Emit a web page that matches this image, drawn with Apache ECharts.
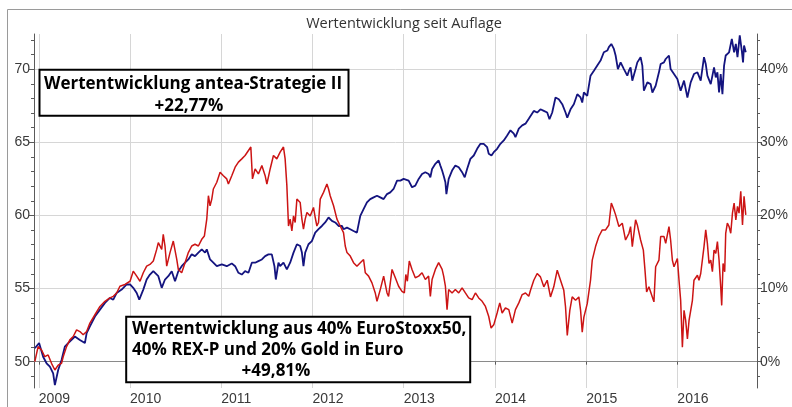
<!DOCTYPE html>
<html><head><meta charset="utf-8">
<script src="https://cdn.jsdelivr.net/npm/echarts@6/dist/echarts.min.js"></script>
<style>html,body{margin:0;padding:0;background:#fff}#c{width:792px;height:407px}</style>
</head><body><div id="c"></div>
<script>
const titleText = 'Wertentwicklung seit Auflage';
const yearTicks = [2009, 2010, 2011, 2012, 2013, 2014, 2015, 2016];
const leftMajor = [50, 55, 60, 65, 70];
const leftMinor = [49, 50, 51, 52, 53, 54, 55, 56, 57, 58, 59, 60, 61, 62, 63, 64, 65, 66, 67, 68, 69, 70, 71, 72];
const rightMajor = [0, 10, 20, 30, 40];
const rightMinor = [-2, 0, 2, 4, 6, 8, 10, 12, 14, 16, 18, 20, 22, 24, 26, 28, 30, 32, 34, 36, 38, 40, 42, 44];
const box1Lines = ['Wertentwicklung antea-Strategie II', '+22,77%'];
const box2Lines = ['Wertentwicklung aus 40% EuroStoxx50,', '40% REX-P und 20% Gold in Euro', '+49,81%'];

// antea-Strategie II (blue), [decimal year, value on left axis]
const anteaStrategie = [[2008.956,50.92],[2009.003,51.27],[2009.047,50.34],[2009.085,49.89],[2009.121,49.66],[2009.157,49.20],[2009.176,48.40],[2009.212,49.43],[2009.249,50.12],[2009.285,51.03],[2009.322,51.27],[2009.359,51.49],[2009.395,51.72],[2009.450,51.49],[2009.505,51.27],[2009.524,51.95],[2009.560,52.41],[2009.615,53.09],[2009.670,53.56],[2009.725,54.02],[2009.779,54.36],[2009.816,54.24],[2009.853,54.70],[2009.908,54.93],[2009.963,55.28],[2010.000,55.28],[2010.035,55.05],[2010.073,54.70],[2010.101,54.24],[2010.145,54.93],[2010.182,55.62],[2010.218,55.96],[2010.255,56.19],[2010.310,55.85],[2010.347,55.05],[2010.383,55.62],[2010.419,55.85],[2010.457,56.19],[2010.493,55.50],[2010.529,56.19],[2010.566,56.53],[2010.603,56.77],[2010.639,56.99],[2010.676,57.34],[2010.712,57.22],[2010.749,57.46],[2010.786,57.68],[2010.822,57.46],[2010.841,57.68],[2010.877,56.99],[2010.913,56.77],[2010.951,56.53],[2011.006,56.65],[2011.060,56.53],[2011.115,56.72],[2011.152,56.53],[2011.188,56.08],[2011.225,55.96],[2011.261,56.19],[2011.298,56.08],[2011.335,56.77],[2011.371,56.77],[2011.407,56.88],[2011.445,56.99],[2011.481,57.22],[2011.517,57.34],[2011.554,57.34],[2011.583,56.53],[2011.598,55.62],[2011.627,56.77],[2011.645,56.53],[2011.682,56.77],[2011.719,56.31],[2011.755,56.77],[2011.792,57.46],[2011.829,58.03],[2011.865,57.91],[2011.884,57.46],[2011.901,56.53],[2011.920,57.46],[2011.956,58.03],[2011.993,58.25],[2012.030,58.83],[2012.066,59.06],[2012.103,59.28],[2012.139,59.52],[2012.176,59.86],[2012.213,59.63],[2012.249,59.52],[2012.286,59.28],[2012.323,59.28],[2012.340,59.06],[2012.378,59.17],[2012.414,59.06],[2012.450,58.94],[2012.487,58.83],[2012.524,59.97],[2012.560,60.43],[2012.597,60.89],[2012.633,61.12],[2012.670,61.24],[2012.707,61.35],[2012.743,61.24],[2012.780,61.12],[2012.817,61.46],[2012.853,61.58],[2012.889,61.81],[2012.927,62.38],[2012.963,62.38],[2012.999,62.50],[2013.054,62.38],[2013.091,61.93],[2013.127,62.04],[2013.164,62.50],[2013.201,62.84],[2013.237,62.96],[2013.273,62.84],[2013.292,62.61],[2013.311,63.18],[2013.347,63.53],[2013.383,63.76],[2013.402,63.41],[2013.421,63.07],[2013.438,62.72],[2013.457,62.27],[2013.468,61.46],[2013.493,62.50],[2013.530,63.07],[2013.566,63.41],[2013.603,63.30],[2013.640,62.96],[2013.669,62.61],[2013.695,63.18],[2013.731,63.87],[2013.768,64.10],[2013.805,64.56],[2013.841,64.90],[2013.877,64.90],[2013.914,64.68],[2013.932,64.22],[2013.962,64.10],[2013.987,64.33],[2014.024,64.56],[2014.060,64.90],[2014.097,65.13],[2014.134,65.47],[2014.170,65.82],[2014.207,65.59],[2014.225,65.36],[2014.262,65.94],[2014.299,66.16],[2014.335,66.28],[2014.371,66.62],[2014.390,66.69],[2014.426,67.15],[2014.463,67.04],[2014.499,67.26],[2014.536,67.15],[2014.573,67.04],[2014.598,66.58],[2014.628,67.04],[2014.664,68.07],[2014.700,67.95],[2014.738,67.61],[2014.774,67.04],[2014.793,66.69],[2014.829,67.26],[2014.865,67.61],[2014.903,68.29],[2014.939,68.07],[2014.957,67.72],[2014.975,68.41],[2015.012,68.18],[2015.048,69.56],[2015.085,69.90],[2015.122,70.25],[2015.158,70.59],[2015.194,71.16],[2015.232,71.28],[2015.249,71.51],[2015.276,71.73],[2015.304,71.39],[2015.323,70.94],[2015.348,70.01],[2015.378,70.47],[2015.396,70.59],[2015.414,70.01],[2015.451,69.56],[2015.469,69.90],[2015.487,70.13],[2015.506,69.22],[2015.542,70.01],[2015.561,70.47],[2015.597,70.82],[2015.616,70.25],[2015.633,68.53],[2015.671,69.10],[2015.707,68.98],[2015.726,68.41],[2015.762,68.87],[2015.798,69.79],[2015.817,70.36],[2015.853,70.47],[2015.872,70.70],[2015.908,70.94],[2015.926,70.01],[2015.963,69.67],[2016.000,69.33],[2016.036,68.53],[2016.073,69.22],[2016.110,68.07],[2016.146,69.10],[2016.182,69.67],[2016.220,69.79],[2016.256,69.22],[2016.292,70.82],[2016.311,70.36],[2016.329,69.56],[2016.366,68.98],[2016.402,70.13],[2016.421,69.44],[2016.439,69.79],[2016.457,68.41],[2016.475,69.67],[2016.494,68.29],[2016.512,70.25],[2016.530,70.94],[2016.567,71.16],[2016.597,72.08],[2016.622,71.16],[2016.641,71.73],[2016.659,70.82],[2016.684,72.31],[2016.706,71.28],[2016.720,70.47],[2016.731,71.62],[2016.750,71.16]];

// 40% EuroStoxx50 / 40% REX-P / 20% Gold (red)
const benchmarkMix = [[2008.956,50.00],[2008.992,51.03],[2009.030,50.80],[2009.066,50.34],[2009.102,50.46],[2009.139,49.89],[2009.176,49.43],[2009.212,49.77],[2009.249,49.89],[2009.267,50.34],[2009.304,51.03],[2009.340,51.49],[2009.377,51.72],[2009.414,52.18],[2009.450,52.06],[2009.486,51.84],[2009.524,52.06],[2009.560,52.64],[2009.615,53.21],[2009.670,53.78],[2009.725,54.13],[2009.779,54.36],[2009.816,54.47],[2009.853,54.70],[2009.889,55.16],[2009.944,55.28],[2010.000,55.50],[2010.035,56.19],[2010.073,55.85],[2010.109,55.50],[2010.145,56.08],[2010.182,56.53],[2010.218,56.65],[2010.255,56.88],[2010.292,57.68],[2010.310,58.14],[2010.347,57.68],[2010.364,58.71],[2010.383,57.91],[2010.402,56.53],[2010.438,57.46],[2010.474,58.25],[2010.512,56.99],[2010.529,56.31],[2010.566,56.08],[2010.603,56.77],[2010.639,57.46],[2010.676,57.91],[2010.712,58.03],[2010.749,57.91],[2010.786,58.37],[2010.815,58.60],[2010.841,59.75],[2010.859,61.35],[2010.877,60.66],[2010.896,61.12],[2010.913,61.81],[2010.951,62.27],[2010.987,62.96],[2011.023,62.72],[2011.060,62.50],[2011.078,62.15],[2011.115,62.72],[2011.152,63.30],[2011.188,63.65],[2011.225,63.87],[2011.261,64.10],[2011.298,64.44],[2011.324,64.68],[2011.342,62.50],[2011.371,63.18],[2011.407,62.84],[2011.445,63.41],[2011.481,62.72],[2011.500,62.15],[2011.536,63.18],[2011.572,64.10],[2011.609,63.87],[2011.645,64.33],[2011.682,64.68],[2011.700,63.87],[2011.719,62.04],[2011.737,59.28],[2011.755,59.75],[2011.774,58.94],[2011.792,59.97],[2011.810,59.52],[2011.829,61.12],[2011.846,61.24],[2011.865,60.89],[2011.884,59.75],[2011.901,59.06],[2011.920,59.75],[2011.939,60.21],[2011.975,59.97],[2012.011,60.55],[2012.030,59.86],[2012.048,59.28],[2012.066,59.52],[2012.085,61.12],[2012.121,61.58],[2012.158,62.15],[2012.176,61.81],[2012.194,61.35],[2012.231,60.66],[2012.268,59.75],[2012.304,59.28],[2012.340,58.83],[2012.359,57.91],[2012.378,57.46],[2012.414,57.22],[2012.450,56.77],[2012.487,56.53],[2012.524,56.77],[2012.560,56.99],[2012.579,56.08],[2012.615,55.85],[2012.652,55.39],[2012.688,54.70],[2012.707,54.13],[2012.743,54.93],[2012.780,55.85],[2012.817,54.70],[2012.834,54.47],[2012.872,56.31],[2012.908,55.74],[2012.944,55.16],[2012.981,54.81],[2013.007,54.70],[2013.023,55.96],[2013.040,55.50],[2013.061,56.88],[2013.091,56.31],[2013.127,55.74],[2013.164,55.85],[2013.201,56.08],[2013.237,55.62],[2013.273,55.85],[2013.292,54.47],[2013.311,55.62],[2013.347,56.31],[2013.383,56.77],[2013.402,56.88],[2013.421,56.31],[2013.438,55.85],[2013.457,55.16],[2013.475,53.56],[2013.493,54.93],[2013.530,54.70],[2013.566,54.93],[2013.603,54.70],[2013.640,55.05],[2013.676,54.70],[2013.712,54.36],[2013.750,54.24],[2013.786,54.70],[2013.822,54.36],[2013.860,54.13],[2013.896,53.78],[2013.932,53.09],[2013.958,52.30],[2013.987,52.52],[2014.024,53.33],[2014.053,54.02],[2014.079,53.33],[2014.115,53.67],[2014.152,53.56],[2014.189,52.64],[2014.225,53.56],[2014.262,54.02],[2014.299,54.59],[2014.335,54.70],[2014.371,54.47],[2014.390,54.88],[2014.426,55.57],[2014.463,56.03],[2014.499,55.80],[2014.536,55.12],[2014.573,55.57],[2014.609,54.43],[2014.645,55.12],[2014.683,56.26],[2014.719,55.57],[2014.755,54.88],[2014.774,53.74],[2014.793,51.79],[2014.821,53.51],[2014.847,54.43],[2014.884,54.20],[2014.920,54.43],[2014.939,53.51],[2014.957,52.02],[2014.975,53.05],[2015.012,53.97],[2015.048,55.57],[2015.067,56.95],[2015.103,57.87],[2015.139,58.56],[2015.177,59.01],[2015.213,59.01],[2015.249,59.35],[2015.276,60.85],[2015.304,60.39],[2015.323,60.04],[2015.359,59.24],[2015.396,59.47],[2015.432,58.32],[2015.469,58.78],[2015.487,59.24],[2015.506,57.87],[2015.542,59.70],[2015.561,59.35],[2015.597,58.32],[2015.627,57.63],[2015.645,56.26],[2015.663,54.77],[2015.688,55.12],[2015.707,54.77],[2015.743,54.09],[2015.762,56.49],[2015.798,56.95],[2015.817,58.56],[2015.853,58.56],[2015.872,58.09],[2015.908,59.24],[2015.926,58.32],[2015.945,56.95],[2015.963,56.49],[2016.000,57.06],[2016.018,55.57],[2016.036,54.20],[2016.055,50.99],[2016.073,53.51],[2016.091,52.82],[2016.110,51.56],[2016.128,52.82],[2016.165,54.20],[2016.182,55.57],[2016.220,55.91],[2016.237,55.57],[2016.256,56.03],[2016.292,57.87],[2016.311,59.01],[2016.329,58.09],[2016.347,56.72],[2016.366,56.95],[2016.384,56.15],[2016.402,57.63],[2016.421,57.41],[2016.439,58.21],[2016.457,56.95],[2016.475,55.12],[2016.486,53.85],[2016.501,56.72],[2016.519,56.15],[2016.530,58.78],[2016.548,59.47],[2016.567,59.24],[2016.585,58.78],[2016.604,60.16],[2016.622,60.85],[2016.641,59.70],[2016.659,60.62],[2016.676,60.16],[2016.695,61.65],[2016.714,59.35],[2016.731,61.31],[2016.750,60.04]];

const xMin = 2008.947, xMax = 2016.873;
const yMin = 48.20, yMax = 72.41;
const pMin = (yMin - 50) * 2, pMax = (yMax - 50) * 2;

const axisCol = '#5a5a5a', gridCol = '#d6d6d6', labelCol = '#3a3a3a';
const labelFont = '"Liberation Sans", Arial, sans-serif';

function minorAxis(pos, min, max, ticks) {
  return {
    type: 'value', position: pos, min: min, max: max,
    axisLine: { show: false },
    axisTick: { show: true, customValues: ticks, length: 3, lineStyle: { color: axisCol } },
    axisLabel: { show: false }, splitLine: { show: false }
  };
}

const chart = echarts.init(document.getElementById('c'), null, { renderer: 'canvas' });
const boxFont = 'bold 17px "Open Sans", sans-serif';
chart.setOption({
  animation: false,
  backgroundColor: '#ffffff',
  grid: { left: 34, right: 35, top: 34, bottom: 19, containLabel: false },
  xAxis: [{
    type: 'value', min: xMin, max: xMax,
    axisLine: { show: true, lineStyle: { color: axisCol, width: 1 } },
    axisTick: { show: true, customValues: yearTicks, length: 3, lineStyle: { color: axisCol } },
    axisLabel: { customValues: yearTicks, align: 'left', margin: 4, color: labelCol, fontSize: 14, fontFamily: labelFont, formatter: v => String(v) },
    splitLine: { show: true, lineStyle: { color: gridCol, width: 1 } }
  }, {
    type: 'value', position: 'top', min: xMin, max: xMax,
    axisLine: { show: true, lineStyle: { color: '#8a8a8a', width: 1 } },
    axisTick: { show: false }, axisLabel: { show: false }, splitLine: { show: false }
  }],
  yAxis: [{
    type: 'value', position: 'left', min: yMin, max: yMax,
    axisLine: { show: true, lineStyle: { color: axisCol, width: 1 } },
    axisTick: { show: true, customValues: leftMajor, length: 5, lineStyle: { color: axisCol } },
    axisLabel: { customValues: leftMajor, margin: 4, color: labelCol, fontSize: 14, fontFamily: labelFont },
    splitLine: { show: true, lineStyle: { color: gridCol, width: 1 } }
  }, {
    type: 'value', position: 'right', min: pMin, max: pMax,
    axisLine: { show: true, lineStyle: { color: axisCol, width: 1 } },
    axisTick: { show: true, customValues: rightMajor, length: 5, lineStyle: { color: axisCol } },
    axisLabel: { customValues: rightMajor, margin: 3, color: labelCol, fontSize: 14, fontFamily: labelFont, formatter: '{value}%' },
    splitLine: { show: false }
  },
  minorAxis('left', yMin, yMax, leftMinor),
  minorAxis('right', pMin, pMax, rightMinor)],
  series: [{
    name: 'antea-Strategie II', type: 'line', xAxisIndex: 0, yAxisIndex: 0,
    data: anteaStrategie, showSymbol: false, symbol: 'none',
    lineStyle: { color: '#14147f', width: 1.8 }, z: 3
  }, {
    name: 'Mischportfolio', type: 'line', xAxisIndex: 0, yAxisIndex: 0,
    data: benchmarkMix, showSymbol: false, symbol: 'none',
    lineStyle: { color: '#cc1414', width: 1.5 }, z: 4
  }],
  graphic: [
    { type: 'rect', z: 0, silent: true, shape: { x: 7.5, y: 9.5, width: 800, height: 420 }, style: { fill: 'none', stroke: '#9a9a9a', lineWidth: 1 } },
    { type: 'text', z: 10, x: 404, y: 24, style: { text: titleText, font: '14.5px "Open Sans", sans-serif', fill: '#333', align: 'center', verticalAlign: 'middle', textAlign: 'center', textVerticalAlign: 'middle' } },
    { type: 'rect', z: 50, shape: { x: 39.5, y: 69.8, width: 309, height: 46 }, style: { fill: '#fff', stroke: '#000', lineWidth: 2 } },
    { type: 'text', z: 51, x: 193, y: 84, style: { text: box1Lines[0], font: boxFont, fill: '#000', align: 'center', verticalAlign: 'middle', textAlign: 'center', textVerticalAlign: 'middle' } },
    { type: 'text', z: 51, x: 189, y: 106.5, style: { text: box1Lines[1], font: boxFont, fill: '#000', align: 'center', verticalAlign: 'middle', textAlign: 'center', textVerticalAlign: 'middle' } },
    { type: 'rect', z: 50, shape: { x: 126.2, y: 316.8, width: 344, height: 65.5 }, style: { fill: '#fff', stroke: '#000', lineWidth: 2 } },
    { type: 'text', z: 51, x: 132, y: 329, style: { text: box2Lines[0], font: boxFont, fill: '#000', align: 'left', verticalAlign: 'middle', textAlign: 'left', textVerticalAlign: 'middle' } },
    { type: 'text', z: 51, x: 132, y: 350.5, style: { text: box2Lines[1], font: boxFont, fill: '#000', align: 'left', verticalAlign: 'middle', textAlign: 'left', textVerticalAlign: 'middle' } },
    { type: 'text', z: 51, x: 276, y: 371.5, style: { text: box2Lines[2], font: boxFont, fill: '#000', align: 'center', verticalAlign: 'middle', textAlign: 'center', textVerticalAlign: 'middle' } }
  ]
});
</script></body></html>
